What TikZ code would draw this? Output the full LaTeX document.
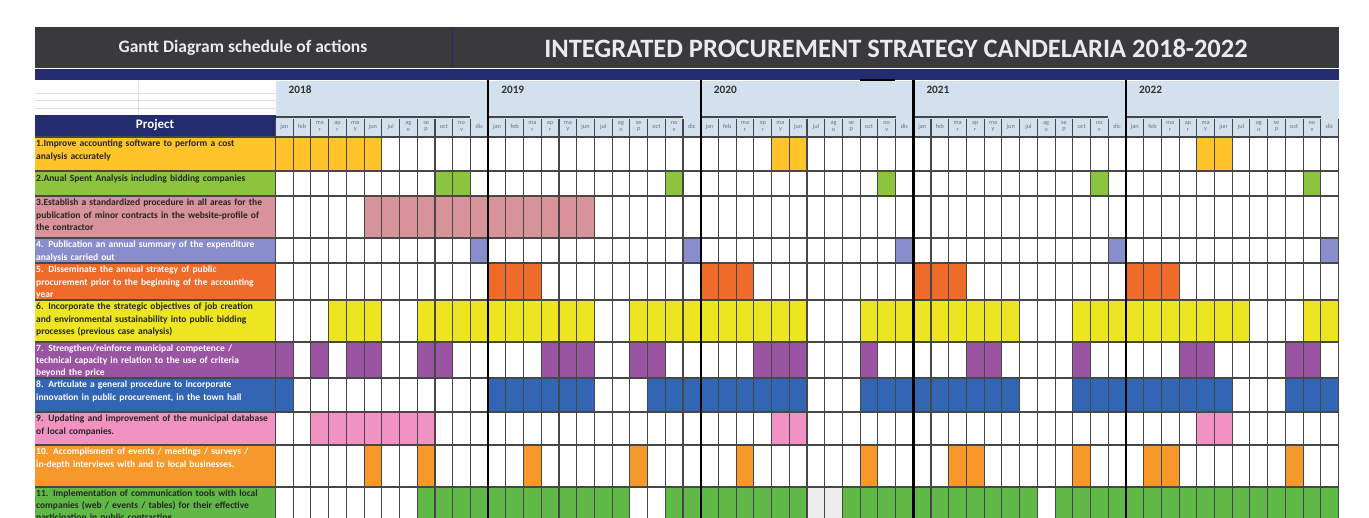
\documentclass[tikz,border=0pt]{standalone}
\usepackage{fontspec}
\setmainfont{Carlito}

\definecolor{bandeau}{HTML}{3A3A3C}
\definecolor{marine}{HTML}{222C6E}
\definecolor{bleuclair}{HTML}{D3E0EE}
\definecolor{c1}{HTML}{FFC42A}
\definecolor{c2}{HTML}{8CC43E}
\definecolor{c3}{HTML}{D8929A}
\definecolor{c4}{HTML}{8A8DCB}
\definecolor{c5}{HTML}{EF6B2A}
\definecolor{c6}{HTML}{EDE522}
\definecolor{c7}{HTML}{9B54A2}
\definecolor{c8}{HTML}{3266B4}
\definecolor{c9}{HTML}{F292C2}
\definecolor{c10}{HTML}{F7982A}
\definecolor{c11}{HTML}{60B946}

\begin{document}
\begin{tikzpicture}[x=1pt, y=-1pt,
  rowtext/.style={anchor=north west, inner sep=0pt, text width=238pt, align=left,
    font=\bfseries\fontsize{9.5}{12.2}\selectfont},
  mois/.style={inner sep=0pt, align=center, text=black!55,
    font=\fontsize{6.3}{6.6}\selectfont},
  annee/.style={anchor=west, inner sep=0pt, text=black!80,
    font=\bfseries\fontsize{11.3}{12}\selectfont},
  grille/.style={draw=black!72, line width=1.1pt}]
\def\xo{275.5}
\def\mw{17.717}

\useasboundingbox[fill=white] (0,0) rectangle (1369,518);

% bandeau du haut
\fill[bandeau] (35,27) rectangle (1338.5,68);
\fill[marine] (35,69.5) rectangle (1338.5,80);
\draw[marine, line width=1.2pt] (452.5,27) -- (452.5,68);
\node[text=white!92!black, font=\bfseries\fontsize{17.5}{18}\selectfont] (gantt) at (243,48) {Gantt Diagram schedule of actions};
\node[text=white!92!black, font=\bfseries\fontsize{26.5}{27}\selectfont] (titre) at (896,48) {INTEGRATED PROCUREMENT STRATEGY CANDELARIA 2018-2022};

% en-tete : annees et mois
\fill[bleuclair] (\xo,81) rectangle (1338.5,137);
\foreach \y in {93,100,108}
  \draw[black!12] (35,\y) -- (\xo,\y);
\draw[black!12] (138,81) -- (138,115);
\fill[marine] (35,115.5) rectangle (\xo,136);
\node[text=white, font=\bfseries\fontsize{13}{13}\selectfont] (projet) at (155,125.5) {Project};

\foreach \a [count=\i from 0] in {2018,...,2022} {
  \node[annee] (an\a) at ({\xo+\i*12*\mw+13},89.5) {\a};
  \foreach \m [count=\j from 0] in {jan,feb,ma\\r,ap\\r,ma\\y,jun,jul,ag\\o,se\\p,oct,no\\v,dic}
    \node[mois] (m\a-\j) at ({\xo+(\i*12+\j+0.5)*\mw},126.5) {\m};
  \draw[grille] ({\xo+12*\i*\mw},117) -- ({\xo+(12*\i+11)*\mw},117);
}
\draw[line width=1.6pt] (860,80) -- (895,80);

% projets
\fill[c1] (35,137) rectangle (\xo,171);
\fill[c2] (35,171) rectangle (\xo,196);
\fill[c3] (35,196) rectangle (\xo,238);
\fill[c4] (35,238) rectangle (\xo,263);
\fill[c5] (35,263) rectangle (\xo,300);
\fill[c6] (35,300) rectangle (\xo,342);
\fill[c7] (35,342) rectangle (\xo,378);
\fill[c8] (35,378) rectangle (\xo,412);
\fill[c9] (35,412) rectangle (\xo,445);
\fill[c10] (35,445) rectangle (\xo,487);
\fill[c11] (35,487) rectangle (\xo,518);

\node[rowtext, text=black!85] (r1) at (36,140) {1.Improve accounting software to perform a cost\\analysis accurately};
\node[rowtext, text=black!85] (r2) at (36,174.5) {2.Anual Spent Analysis including bidding companies};
\node[rowtext, text=black!85] (r3) at (36,199) {3.Establish a standardized procedure in all areas for the\\publication of minor contracts in the website-profile of\\the contractor};
\node[rowtext, text=white] (r4) at (36,241) {4. Publication an annual summary of the expenditure\\analysis carried out};
\node[rowtext, text=white] (r5) at (36,266) {5. Disseminate the annual strategy of public\\procurement prior to the beginning of the accounting\\year};
\node[rowtext, text=black!85] (r6) at (36,303) {6. Incorporate the strategic objectives of job creation\\and environmental sustainability into public bidding\\processes (previous case analysis)};
\node[rowtext, text=white] (r7) at (36,344.5) {7. Strengthen/reinforce municipal competence /\\technical capacity in relation to the use of criteria\\beyond the price};
\node[rowtext, text=white] (r8) at (36,381) {8. Articulate a general procedure to incorporate\\innovation in public procurement, in the town hall};
\node[rowtext, text=black!85] (r9) at (36,415) {9. Updating and improvement of the municipal database\\of local companies.};
\node[rowtext, text=white] (r10) at (36,448) {10. Accomplisment of events / meetings / surveys /\\in-depth interviews with and to local businesses.};
\node[rowtext, text=black!85] (r11) at (36,489.5) {11. Implementation of communication tools with local\\companies (web / events / tables) for their effective\\participation in public contracting};

% mois actifs (0 = jan 2018)
\foreach \t/\b/\c/\liste in {
    137/171/c1/{0,1,2,3,4,5,28,29,52,53},
    171/196/c2/{9,10,22,34,46,58},
    196/238/c3/{5,6,7,8,9,10,11,12,13,14,15,16,17},
    238/263/c4/{11,23,35,47,59},
    263/300/c5/{12,13,14,24,25,26,36,37,38,48,49,50},
    300/342/c6/{3,4,5,8,9,10,11,12,13,14,15,16,17,20,21,22,23,24,25,26,27,28,29,
                33,34,35,36,37,38,39,40,41,45,46,47,48,49,50,51,52,53,54,58,59},
    342/378/c7/{0,2,4,5,8,9,15,16,17,20,21,27,28,29,33,39,40,45,51,52,57,58},
    378/412/c8/{0,12,13,14,15,16,17,21,22,23,24,25,26,27,28,29,
                33,34,35,36,37,38,39,40,41,45,46,47,48,49,50,51,52,53,57,58,59},
    412/445/c9/{2,3,4,5,6,7,8,28,29,52,53},
    445/487/c10/{5,8,14,20,26,33,38,39,45,49,50,57},
    487/518/c11/{8,9,10,11,12,13,14,15,16,17,18,19,22,23,24,25,26,27,28,29,
                 32,33,34,35,36,37,38,39,40,41,42,44,45,46,47,48,49,50,51,52,53,54,55,56,57,58,59},
    487/518/black!7/{30,31}} {
  \foreach \k in \liste
    \fill[\c] ({\xo+\k*\mw},\t) rectangle ({\xo+(\k+1)*\mw},\b);
}

% grille
\foreach \y in {137,171,196,238,263,300,342,378,412,445,487}
  \draw[grille] (35,\y) -- (1338.5,\y);
\foreach \k in {0,...,60}
  \draw[grille] ({\xo+\k*\mw},119) -- ({\xo+\k*\mw},518);
\foreach \i in {1,...,4}
  \draw[line width=2.4pt] ({\xo+12*\i*\mw},80) -- ({\xo+12*\i*\mw},518);
\end{tikzpicture}
\end{document}
